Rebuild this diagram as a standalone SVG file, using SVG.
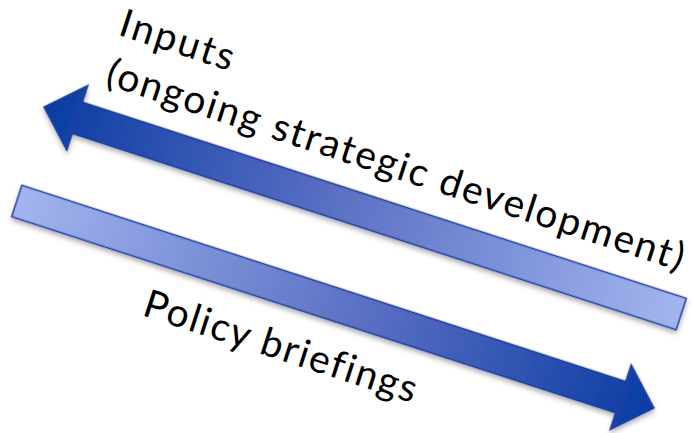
<svg xmlns="http://www.w3.org/2000/svg" width="692" height="433" viewBox="0 0 692 433">
<defs>
<style>
.arrow{stroke:#1e3e9c;stroke-width:1.5;stroke-linejoin:miter}
.lbl{font-family:Lato,"Open Sans","DejaVu Sans",sans-serif;font-size:39px;fill:#000;font-variant-ligatures:none}
</style>
<linearGradient id="gTop" gradientUnits="userSpaceOnUse" x1="0" y1="0" x2="670" y2="0">
<stop offset="0" stop-color="#0a3ca3"/>
<stop offset="0.45" stop-color="#5a6fc3"/>
<stop offset="1" stop-color="#a2b5ef"/>
</linearGradient>
<linearGradient id="gBot" gradientUnits="userSpaceOnUse" x1="-670" y1="0" x2="0" y2="0">
<stop offset="0" stop-color="#a2b5ef"/>
<stop offset="0.55" stop-color="#5a6fc3"/>
<stop offset="1" stop-color="#0a3ca3"/>
</linearGradient>
<filter id="sh" x="-5%" y="-20%" width="110%" height="140%">
<feDropShadow dx="1" dy="3" stdDeviation="2.5" flood-color="#000" flood-opacity="0.3"/>
</filter>
</defs>
<rect width="692" height="433" fill="#fff"/>
<g id="connectors">
<g id="arrow-inputs" transform="translate(44,107) rotate(18)">
<polygon class="arrow" fill="url(#gTop)" filter="url(#sh)" points="0,0 35,-34 35,-16.5 670,-16.5 670,16.5 35,16.5 35,34"/>
</g>
<g id="arrow-policy" transform="translate(654,408) rotate(18)">
<polygon class="arrow" fill="url(#gBot)" filter="url(#sh)" points="0,0 -35,-34 -35,-16.5 -670,-16.5 -670,16.5 -35,16.5 -35,34"/>
</g>
</g>
<g id="label-inputs">
<text class="lbl" transform="translate(117,34.5) rotate(18)" textLength="118">Inputs</text>
<text class="lbl" transform="translate(104,84) rotate(18)" textLength="605">(ongoing strategic development)</text>
</g>
<g id="label-policy">
<text class="lbl" transform="translate(141,315) rotate(18)" textLength="285">Policy briefings</text>
</g>
</svg>
